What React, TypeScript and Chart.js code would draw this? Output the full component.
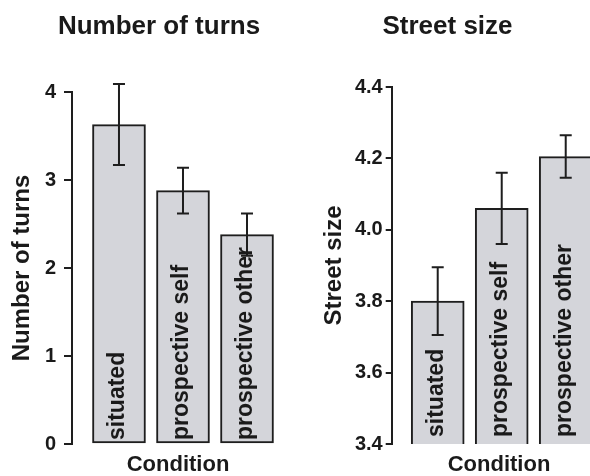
import React, { useEffect, useRef } from "react";
import { Chart, registerables } from "chart.js";

Chart.register(...registerables);

const categories = ["situated", "prospective self", "prospective other"];

const turnsMeans = [3.63, 2.88, 2.38];
const turnsLower = [3.17, 2.62, 2.14];
const turnsUpper = [4.09, 3.14, 2.62];
const turnsTicks = [0, 1, 2, 3, 4];

const streetMeans = [3.8, 4.06, 4.205];
const streetLower = [3.705, 3.96, 4.146];
const streetUpper = [3.895, 4.16, 4.265];
const streetTicks = [3.4, 3.6, 3.8, 4.0, 4.2, 4.4];

const FONT = "'Liberation Sans', Arial, Helvetica, sans-serif";
const INK = "#1a1a1a";
const LINE = "#1e1e1e";
const FILL = "#d4d5da";

type PanelSpec = {
  title: string;
  titleX: number;
  titleY: number;
  yTitle: string;
  yTitlePad: number;
  means: number[];
  lower: number[];
  upper: number[];
  ticks: number[];
  yMin: number;
  yMax: number;
  decimals: number;
  yWidth: number;
  tickLength: number;
  tickPad: number;
  padTop: number;
  padRight: number;
  xHeight: number;
  xMin: number;
  xMax: number;
  labelGap: number;
};

function makePanel(canvas: HTMLCanvasElement, s: PanelSpec) {
  const errorBars = {
    id: "errorBars",
    afterDatasetsDraw(chart: any) {
      const { ctx } = chart;
      const y = chart.scales.y;
      const bars = chart.getDatasetMeta(0).data;
      ctx.save();
      ctx.strokeStyle = LINE;
      ctx.lineWidth = 2;
      bars.forEach((bar: any, i: number) => {
        const cx = bar.x;
        const yt = y.getPixelForValue(s.upper[i]);
        const yb = y.getPixelForValue(s.lower[i]);
        ctx.beginPath();
        ctx.moveTo(cx, yt);
        ctx.lineTo(cx, yb);
        ctx.moveTo(cx - 6, yt);
        ctx.lineTo(cx + 6, yt);
        ctx.moveTo(cx - 6, yb);
        ctx.lineTo(cx + 6, yb);
        ctx.stroke();
      });
      ctx.restore();
    },
  };

  const barLabels = {
    id: "barLabels",
    afterDatasetsDraw(chart: any) {
      const { ctx } = chart;
      const bottom = chart.chartArea.bottom;
      const bars = chart.getDatasetMeta(0).data;
      ctx.save();
      ctx.fillStyle = INK;
      ctx.font = `bold 23px ${FONT}`;
      ctx.textAlign = "left";
      ctx.textBaseline = "middle";
      bars.forEach((bar: any, i: number) => {
        ctx.save();
        ctx.translate(bar.x - 1, bottom - s.labelGap);
        ctx.rotate(-Math.PI / 2);
        ctx.fillText(categories[i], 0, 0);
        ctx.restore();
      });
      ctx.restore();
    },
  };

  const panelTitle = {
    id: "panelTitle",
    afterDraw(chart: any) {
      const { ctx } = chart;
      ctx.save();
      ctx.fillStyle = INK;
      ctx.font = `bold 26px ${FONT}`;
      ctx.textAlign = "center";
      ctx.textBaseline = "alphabetic";
      ctx.fillText(s.title, s.titleX, s.titleY);
      ctx.restore();
    },
  };

  return new Chart(canvas, {
    type: "bar",
    data: {
      datasets: [
        {
          data: s.means.map((v, i) => ({ x: i, y: v })),
          backgroundColor: FILL,
          borderColor: LINE,
          borderWidth: 2,
          borderSkipped: false,
          barThickness: 53,
        },
      ],
    },
    options: {
      responsive: false,
      animation: false,
      devicePixelRatio: 1,
      layout: { padding: { top: s.padTop, right: s.padRight, left: 0, bottom: 0 } },
      plugins: {
        legend: { display: false },
        tooltip: { enabled: false },
        title: { display: false },
      },
      scales: {
        x: {
          type: "linear",
          offset: false,
          min: s.xMin,
          max: s.xMax,
          ticks: { display: false },
          grid: { display: false, offset: false },
          border: { display: false },
          title: {
            display: true,
            text: "Condition",
            color: INK,
            font: { family: FONT, size: 22, weight: "bold", lineHeight: 1 },
            padding: 0,
          },
          afterFit: (sc: any) => {
            sc.height = s.xHeight;
          },
        },
        y: {
          min: s.yMin,
          max: s.yMax,
          afterBuildTicks: (sc: any) => {
            sc.ticks = s.ticks.map((v) => ({ value: v }));
          },
          ticks: {
            callback: (v: any) => Number(v).toFixed(s.decimals),
            color: INK,
            font: { family: FONT, size: 20, weight: "bold" },
            padding: s.tickPad,
          },
          grid: {
            drawOnChartArea: false,
            drawTicks: true,
            tickLength: s.tickLength,
            color: LINE,
            lineWidth: 2,
          },
          border: { display: true, color: LINE, width: 2 },
          title: {
            display: true,
            text: s.yTitle,
            color: INK,
            font: { family: FONT, size: 24, weight: "bold" },
            padding: { top: s.yTitlePad, bottom: 0 },
          },
          afterFit: (sc: any) => {
            sc.width = s.yWidth;
          },
        },
      },
    } as any,
    plugins: [errorBars, barLabels, panelTitle],
  });
}

export default function App() {
  const leftRef = useRef<HTMLCanvasElement | null>(null);
  const rightRef = useRef<HTMLCanvasElement | null>(null);

  useEffect(() => {
    const left = makePanel(leftRef.current!, {
      title: "Number of turns",
      titleX: 159,
      titleY: 33.5,
      yTitle: "Number of turns",
      yTitlePad: 8,
      means: turnsMeans,
      lower: turnsLower,
      upper: turnsUpper,
      ticks: turnsTicks,
      yMin: 0,
      yMax: 4,
      decimals: 0,
      yWidth: 72,
      tickLength: 8,
      tickPad: 8,
      padTop: 92,
      padRight: 11,
      xHeight: 32,
      xMin: -0.734,
      xMax: 2.578,
      labelGap: 4,
    });
    const right = makePanel(rightRef.current!, {
      title: "Street size",
      titleX: 152.5,
      titleY: 33.5,
      yTitle: "Street size",
      yTitlePad: 24.5,
      means: streetMeans,
      lower: streetLower,
      upper: streetUpper,
      ticks: streetTicks,
      yMin: 3.4,
      yMax: 4.4,
      decimals: 1,
      yWidth: 96.7,
      tickLength: 6,
      tickPad: 3,
      padTop: 87,
      padRight: 8.7,
      xHeight: 32,
      xMin: -0.719,
      xMax: 2.634,
      labelGap: 7,
    });
    return () => {
      left.destroy();
      right.destroy();
    };
  }, []);

  return (
    <div
      style={{
        position: "fixed",
        left: 0,
        top: 0,
        width: 590,
        height: 476,
        overflow: "hidden",
        background: "#fff",
      }}
    >
      <canvas ref={leftRef} width={295} height={476} style={{ position: "absolute", left: 0, top: 0 }} />
      <canvas ref={rightRef} width={320} height={476} style={{ position: "absolute", left: 295, top: 0 }} />
    </div>
  );
}
